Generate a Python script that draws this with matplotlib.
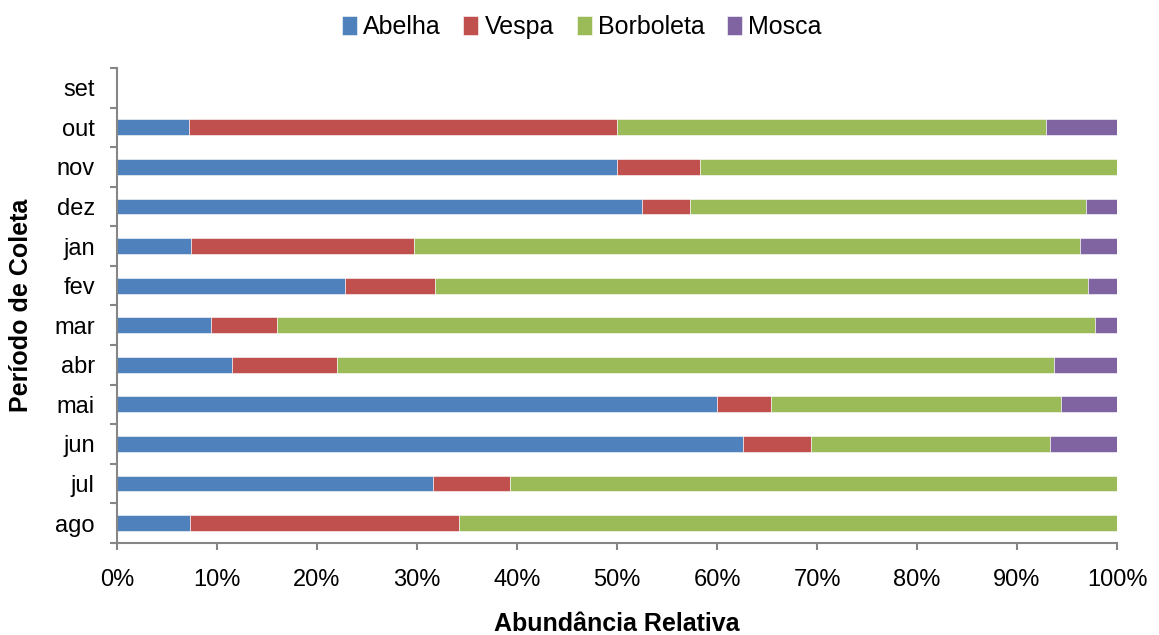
import numpy as np
import matplotlib.pyplot as plt
from matplotlib.ticker import FuncFormatter, MultipleLocator

plt.rcParams['font.family'] = ['Liberation Sans', 'DejaVu Sans']

# display order, top to bottom
months = ["set", "out", "nov", "dez", "jan", "fev", "mar", "abr", "mai", "jun", "jul", "ago"]
abelha = [0, 7.2, 50.0, 52.5, 7.4, 22.8, 9.4, 11.5, 60.0, 62.6, 31.6, 7.3]
vespa = [0, 42.8, 8.3, 4.8, 22.3, 9.0, 6.6, 10.5, 5.4, 6.8, 7.7, 26.9]
borboleta = [0, 42.9, 41.7, 39.6, 66.6, 65.3, 81.8, 71.7, 29.0, 23.9, 60.7, 65.8]
mosca = [0, 7.1, 0, 3.1, 3.7, 2.9, 2.2, 6.3, 5.6, 6.7, 0, 0]

series = [
    ("Abelha", abelha, "#4F81BD"),
    ("Vespa", vespa, "#C0504D"),
    ("Borboleta", borboleta, "#9BBB59"),
    ("Mosca", mosca, "#8064A2"),
]

fig = plt.figure(figsize=(11.59, 6.35), dpi=100)
ax = fig.add_axes([0.101, 0.145, 0.8628, 0.748])

y = np.arange(len(months))
left = np.zeros(len(months))
for name, vals, color in series:
    vals = np.array(vals)
    ax.barh(y, vals, left=left, height=0.4, color=color, label=name,
            edgecolor="white", linewidth=0.4)
    left += vals

ax.set_xlim(0, 100)
ax.set_ylim(len(months) - 0.5, -0.5)

ax.xaxis.set_major_locator(MultipleLocator(10))
ax.xaxis.set_major_formatter(FuncFormatter(lambda v, p: f"{v:.0f}%"))
ax.set_yticks(y)
ax.set_yticklabels(months)
ax.set_yticks(np.arange(-0.5, len(months), 1), minor=True)

for s in ["top", "right"]:
    ax.spines[s].set_visible(False)
for s in ["left", "bottom"]:
    ax.spines[s].set_color("#868686")
    ax.spines[s].set_linewidth(1.5)

ax.tick_params(axis="y", which="major", length=0, pad=16, labelsize=17)
ax.tick_params(axis="y", which="minor", length=5, width=1.5, color="#868686")
ax.tick_params(axis="x", length=5, width=1.5, color="#868686", pad=14, labelsize=17)

ax.set_xlabel("Abundância Relativa", fontsize=18, fontweight="bold", labelpad=15)
ax.set_ylabel("Período de Coleta", fontsize=18, fontweight="bold", labelpad=15)

fig.legend(loc="upper center", bbox_to_anchor=(0.502, 1.012), ncol=4, frameon=False,
           fontsize=18, handlelength=0.6, handleheight=0.8, handletextpad=0.25,
           columnspacing=0.9)

fig.savefig("out.png", dpi=100)
